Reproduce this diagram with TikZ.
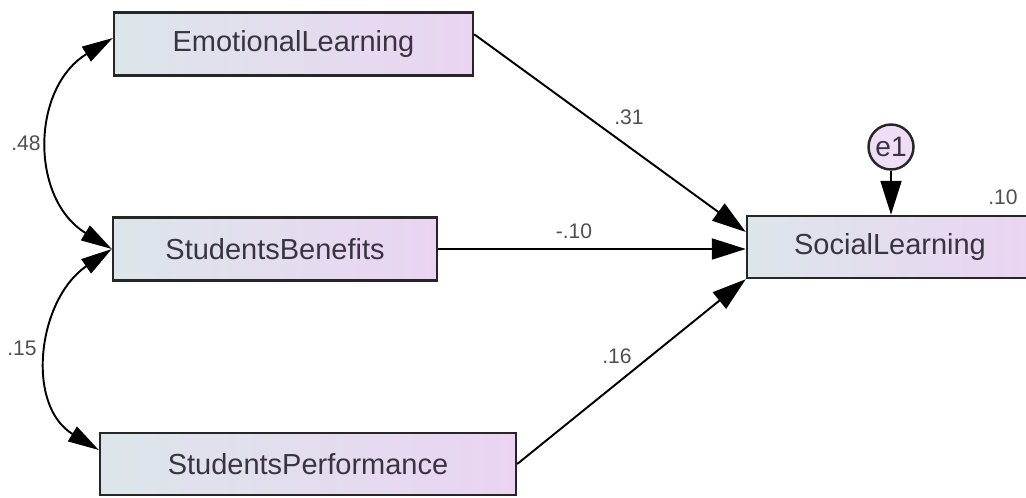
\documentclass[tikz,border=0pt]{standalone}
\usepackage{fontspec}
\setmainfont{Liberation Sans}
\usetikzlibrary{arrows.meta,positioning}
\definecolor{boxleft}{RGB}{220,230,234}
\definecolor{boxright}{RGB}{234,212,242}
\definecolor{txtgray}{RGB}{58,52,66}
\definecolor{lblgray}{RGB}{80,80,80}

\begin{document}
\begin{tikzpicture}[x=0.02cm,y=-0.02cm,
    var/.style={draw=black!85,line width=1.4pt,left color=boxleft,right color=boxright,
      minimum height=1.26cm,inner sep=0pt,text=txtgray,font=\fontsize{16.5}{19}\selectfont},
    err/.style={circle,draw=black!85,line width=1.4pt,fill=boxright!80!white,
      minimum size=0.9cm,inner sep=0pt,text=txtgray,font=\fontsize{16}{18}\selectfont},
    regpath/.style={-{Triangle[length=0.68cm,width=0.42cm]},line width=1.1pt},
    cov/.style={{Triangle[length=0.62cm,width=0.34cm]}-{Triangle[length=0.62cm,width=0.34cm]},line width=1.1pt},
    coef/.style={text=lblgray,font=\fontsize{12}{14}\selectfont}]
        % Fix the page size
        \useasboundingbox (0,0) rectangle (1026,497);
        % Observed variables
        \node[var,minimum width=7.18cm] (emo) at (293.5,44) {EmotionalLearning};
        \node[var,minimum width=6.48cm] (ben) at (275,249) {StudentsBenefits};
        \node[var,minimum width=8.32cm,minimum height=1.24cm] (perf) at (308,464) {StudentsPerformance};
        \node[var,minimum width=5.72cm,minimum height=1.24cm] (soc) at (890,247) {SocialLearning};
        % Error term
        \node[err] (e1) at (891,147) {e1};
        % Regression paths
        \draw[regpath] ([yshift=-0.46cm]emo.north east) -- ([yshift=0.3cm]soc.west);
        \draw[regpath] (ben.east) -- (ben.east -| soc.west);
        \draw[regpath] (perf.east) -- (soc.south west);
        \draw[regpath] (e1.south) -- (e1.south |- soc.north);
        % Covariances
        \draw[cov] ([yshift=0.12cm]emo.west) .. controls +(-82,50) and +(-82,-50) .. (ben.west);
        \draw[cov] (ben.west) .. controls +(-74,50) and +(-74,-45) .. ([yshift=0.28cm]perf.west);
        % Coefficients
        \node[coef] (c48) at (26,143) {.48};
        \node[coef] (c15) at (22,348) {.15};
        \node[coef] (c31) at (629,117) {.31};
        \node[coef] (c10n) at (574,231) {-.10};
        \node[coef] (c16) at (617,356) {.16};
        \node[coef] (r2) at (1003,197) {.10};
\end{tikzpicture}
\end{document}
